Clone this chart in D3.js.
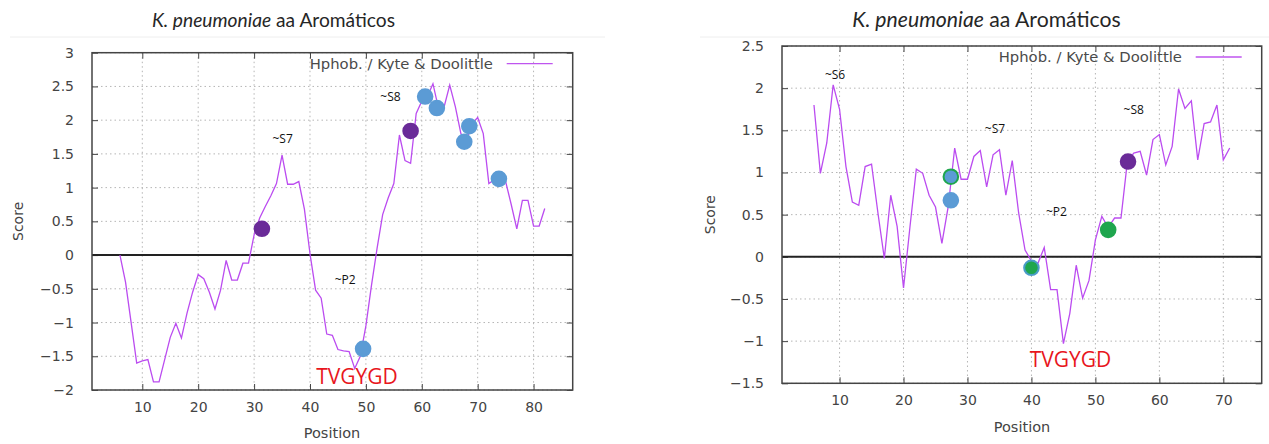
<!DOCTYPE html>
<html>
<head>
<meta charset="utf-8">
<script src="https://cdn.jsdelivr.net/npm/d3@7"></script>
<style>
  body { margin: 0; background: #fff; }
  svg { display: block; }
  .tick text { font-family: "DejaVu Sans", sans-serif; font-size: 14px; fill: #444; }
</style>
</head>
<body>
<svg id="chart" width="1269" height="444"></svg>
<script>
// ---- data ----
const titleMain = "K. pneumoniae";
const titleRest = " aa Aromáticos";
const legendLabel = "Hphob. / Kyte & Doolittle";

// left chart: score per residue, starting at position 6
const leftStart = 6;
const leftScores = [
  0, -0.40, -1.00, -1.60, -1.57, -1.55, -1.88, -1.88, -1.55, -1.22,
  -1.01, -1.23, -0.86, -0.55, -0.29, -0.35, -0.55, -0.80, -0.52, -0.08,
  -0.37, -0.37, -0.12, -0.12, 0.30, 0.55, 0.72, 0.88, 1.06, 1.48,
  1.05, 1.05, 1.09, 0.68, 0.02, -0.52, -0.64, -1.17, -1.19, -1.40,
  -1.42, -1.43, -1.68, -1.50, -1.05, -0.45, 0.10, 0.60, 0.85, 1.06,
  1.78, 1.40, 1.36, 2.10, 2.28, 2.35, 2.54, 2.17, 2.20, 2.52,
  2.20, 1.80, 1.70, 1.95, 2.04, 1.80, 1.06, 1.12, 1.12, 1.09,
  0.75, 0.39, 0.81, 0.81, 0.43, 0.43, 0.69
];
const leftDotPos   = [31.4, 58.0, 49.5, 60.6, 62.7, 67.6, 68.5, 73.8];
const leftDotScore = [0.39, 1.84, -1.39, 2.35, 2.18, 1.68, 1.91, 1.13];
const leftDotKind  = ["P", "P", "B", "B", "B", "B", "B", "B"];
const leftNotes    = ["~S7", "~S8", "~P2", "TVGYGD"];
const leftNotePos  = [35.1, 54.4, 46.3, 48.4];
const leftNoteY    = [1.73, 2.35, -0.36, -1.80];

// right chart
const rightStart = 6;
const rightScores = [
  1.80, 0.99, 1.35, 2.04, 1.75, 1.07, 0.65, 0.61, 1.07, 1.10,
  0.52, -0.02, 0.73, 0.36, -0.37, 0.35, 1.04, 0.99, 0.73, 0.59,
  0.16, 0.60, 1.29, 0.92, 0.92, 1.19, 1.26, 0.83, 1.21, 1.27,
  0.73, 1.14, 0.52, 0.08, -0.05, -0.08, 0.11, -0.39, -0.39, -1.03,
  -0.67, -0.10, -0.49, -0.28, 0.20, 0.48, 0.35, 0.46, 0.46, 1.13,
  1.23, 1.25, 0.97, 1.39, 1.45, 1.09, 1.31, 1.99, 1.76, 1.85,
  1.15, 1.58, 1.60, 1.80, 1.15, 1.29
];
const rightDotPos   = [27.4, 27.4, 40.0, 52.0, 55.1];
const rightDotScore = [0.95, 0.67, -0.13, 0.32, 1.13];
const rightDotKind  = ["BG", "B", "GB", "G", "P"];
const rightNotes    = ["~S6", "~S7", "~P2", "~S8", "TVGYGD"];
const rightNotePos  = [9.3, 34.3, 43.9, 56.0, 46.1];
const rightNoteY    = [2.16, 1.52, 0.53, 1.74, -1.22];

// ---- drawing ----
const svg = d3.select("#chart");
const purple = "#6a2b98", blue = "#5b9bd5", green = "#1fa64e";
const dotFill   = { P: purple, B: blue, G: green, BG: blue, GB: green };
const dotStroke = { P: purple, B: blue, G: green, BG: green, GB: "#4a9cc8" };

function drawChart(o) {
  const g = svg.append("g");
  const x = d3.scaleLinear().domain(o.xDomain).range([o.left, o.right]);
  const y = d3.scaleLinear().domain(o.yDomain).range([o.bottom, o.top]);
  const xTicks = d3.range(10, o.xDomain[1], 10);
  const yTicks = d3.range(o.yDomain[0], o.yDomain[1] + 0.01, 0.5);

  // title
  g.append("text")
    .attr("x", o.titleX).attr("y", 27)
    .attr("text-anchor", "middle")
    .style("font-family", "Lato, sans-serif")
    .style("font-size", o.titleSize + "px")
    .style("fill", "#262626")
    .call(t => {
      t.append("tspan").style("font-style", "italic").text(titleMain);
      t.append("tspan").text(titleRest);
    });
  g.append("line")
    .attr("x1", o.sepX[0]).attr("x2", o.sepX[1])
    .attr("y1", 37).attr("y2", 37)
    .attr("stroke", "#eee");

  // grid
  g.append("g").selectAll("line").data(xTicks).join("line")
    .attr("x1", d => x(d)).attr("x2", d => x(d))
    .attr("y1", o.top).attr("y2", o.bottom)
    .attr("stroke", "#b5b5b5").attr("stroke-dasharray", "1.5,3");
  g.append("g").selectAll("line").data(yTicks).join("line")
    .attr("x1", o.left).attr("x2", o.right)
    .attr("y1", d => y(d)).attr("y2", d => y(d))
    .attr("stroke", "#b5b5b5").attr("stroke-dasharray", "1.5,3");

  // axes (inward ticks, mirrored)
  const styleAxis = sel => {
    sel.select(".domain").remove();
    sel.selectAll(".tick line").attr("stroke", "#444");
  };
  g.append("g").attr("transform", `translate(0,${o.bottom})`)
    .call(d3.axisBottom(x).tickValues(xTicks).tickSizeInner(-6).tickPadding(12))
    .call(styleAxis);
  g.append("g").attr("transform", `translate(0,${o.top})`)
    .call(d3.axisTop(x).tickValues(xTicks).tickSizeInner(-6).tickFormat(""))
    .call(styleAxis);
  g.append("g").attr("transform", `translate(${o.left},0)`)
    .call(d3.axisLeft(y).tickValues(yTicks).tickSizeInner(-6).tickPadding(18)
      .tickFormat(d => d3.format("~g")(d)))
    .call(styleAxis);
  g.append("g").attr("transform", `translate(${o.right},0)`)
    .call(d3.axisRight(y).tickValues(yTicks).tickSizeInner(-6).tickFormat(""))
    .call(styleAxis);

  // zero line and frame
  g.append("line")
    .attr("x1", o.left).attr("x2", o.right)
    .attr("y1", y(0)).attr("y2", y(0))
    .attr("stroke", "#222").attr("stroke-width", 2);
  g.append("rect")
    .attr("x", o.left).attr("y", o.top)
    .attr("width", o.right - o.left).attr("height", o.bottom - o.top)
    .attr("fill", "none").attr("stroke", "#444").attr("stroke-width", 1.5);

  // axis labels
  g.append("text")
    .attr("transform", `translate(${o.scoreX},${(o.top + o.bottom) / 2}) rotate(-90)`)
    .attr("text-anchor", "middle").attr("dy", "0.35em")
    .style("font-family", "DejaVu Sans").style("font-size", "14px").style("fill", "#444")
    .text("Score");
  g.append("text")
    .attr("x", o.posX).attr("y", o.posY)
    .attr("text-anchor", "middle")
    .style("font-family", "DejaVu Sans").style("font-size", "14.5px").style("fill", "#444")
    .text("Position");

  // legend
  g.append("text")
    .attr("x", o.right - 263).attr("y", o.top + 16)
    .style("font-family", "DejaVu Sans").style("font-size", "14.8px").style("fill", "#4a4a4a")
    .text(legendLabel);
  g.append("line")
    .attr("x1", o.right - 66).attr("x2", o.right - 20)
    .attr("y1", o.top + 11).attr("y2", o.top + 11)
    .attr("stroke", "#bf55ef").attr("stroke-width", 1.3);

  // profile line
  const line = d3.line()
    .x((d, i) => x(o.start + i))
    .y(d => y(d));
  g.append("path")
    .datum(o.scores)
    .attr("d", line)
    .attr("fill", "none")
    .attr("stroke", "#bb4cf0")
    .attr("stroke-width", 1.3);

  // residues
  g.append("g").selectAll("circle").data(o.dotPos).join("circle")
    .attr("cx", d => x(d))
    .attr("cy", (d, i) => y(o.dotScore[i]))
    .attr("r", 7.3)
    .attr("fill", (d, i) => dotFill[o.dotKind[i]])
    .attr("stroke", (d, i) => dotStroke[o.dotKind[i]])
    .attr("stroke-width", 2);

  // annotations
  g.append("g").selectAll("text").data(o.notes).join("text")
    .attr("x", (d, i) => x(o.notePos[i]))
    .attr("y", (d, i) => y(o.noteY[i]))
    .attr("text-anchor", "middle")
    .attr("dy", "0.35em")
    .style("font-family", "Open Sans, sans-serif")
    .style("font-size", d => d === "TVGYGD" ? "21px" : "12px")
    .style("fill", d => d === "TVGYGD" ? "#e8161d" : "#111")
    .text(d => d);
}

drawChart({
  left: 92, right: 572.7, top: 52.7, bottom: 390,
  xDomain: [1, 87], yDomain: [-2, 3],
  titleX: 273.5, titleSize: 19.2, sepX: [10, 605],
  scoreX: 18, posX: 332, posY: 438,
  start: leftStart, scores: leftScores,
  dotPos: leftDotPos, dotScore: leftDotScore, dotKind: leftDotKind,
  notes: leftNotes, notePos: leftNotePos, noteY: leftNoteY
});

drawChart({
  left: 782, right: 1261.7, top: 46, bottom: 383.3,
  xDomain: [1, 76], yDomain: [-1.5, 2.5],
  titleX: 986.5, titleSize: 21.2, sepX: [700, 1269],
  scoreX: 710, posX: 1022, posY: 432,
  start: rightStart, scores: rightScores,
  dotPos: rightDotPos, dotScore: rightDotScore, dotKind: rightDotKind,
  notes: rightNotes, notePos: rightNotePos, noteY: rightNoteY
});
</script>
</body>
</html>
